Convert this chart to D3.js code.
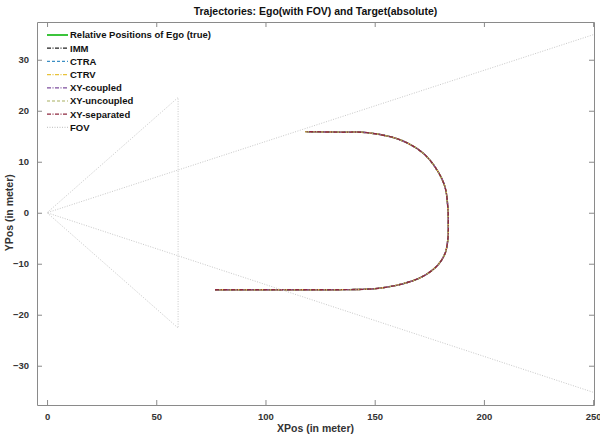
<!DOCTYPE html>
<html>
<head>
<meta charset="UTF-8">
<script src="https://cdn.jsdelivr.net/npm/d3@7"></script>
<style>
  body { margin: 0; background: #fff; }
  text { font-family: "Liberation Sans", Arial, sans-serif; font-weight: bold; }
</style>
</head>
<body>
<script>
// tick labels
const xTicks = [0, 50, 100, 150, 200, 250];
const yTicks = [-30, -20, -10, 0, 10, 20, 30];

// ego relative position (true) - stays at origin
const egoX = [0, 0];
const egoY = [0, 0];

// target track, shared by all estimators since they overlap
const trackX = [76.9, 90, 110, 130, 146, 152, 158, 164, 170, 175, 179.2, 182.2, 183.5, 183.7, 183.5, 182.2, 178.5, 172.1, 161.6, 146.5, 134.1, 118.1];
const trackY = [-15.1, -15.1, -15.1, -15.1, -15.0, -14.8, -14.4, -13.8, -12.9, -11.7, -10.1, -8.0, -5.2, -2.0, 0.9, 5.0, 8.4, 11.7, 14.3, 15.7, 15.8, 15.9];

// field of view outline
const fovX = [250, 0, 60, 60, 0, 250];
const fovY = [34.9, 0, 22.6, -22.6, 0, -35.2];

const seriesNames = ["Relative Positions of Ego (true)", "IMM", "CTRA", "CTRV", "XY-coupled", "XY-uncoupled", "XY-separated", "FOV"];
const seriesColors = ["#3cc43c", "#202020", "#3d8fc4", "#e8c23a", "#7e4f9e", "#a8b060", "#8e2a40", "#c8c8c8"];
const seriesDash = [null, "4,1.5,1,1.5", "3,2", "4,1.5,1,1.5", "4,1.5,1,1.5", "3,2", "4,1.5,1,1.5", "1,1.5"];

const W = 600, H = 439;
const margin = {top: 22, right: 6, bottom: 34, left: 37};
const width = W - margin.left - margin.right,
      height = H - margin.top - margin.bottom;

const svg = d3.select("body").append("svg")
  .attr("width", W).attr("height", H);

const x = d3.scaleLinear().domain([-4.6, 250.4]).range([0, width]);
const y = d3.scaleLinear().domain([-37.7, 37.4]).range([height, 0]);

const g = svg.append("g").attr("transform", `translate(${margin.left},${margin.top})`);

g.append("clipPath").attr("id", "clip")
  .append("rect").attr("width", width).attr("height", height);

const plot = g.append("g").attr("clip-path", "url(#clip)");

const line = d3.line().x(d => x(d[0])).y(d => y(d[1]));
const smooth = d3.line().x(d => x(d[0])).y(d => y(d[1])).curve(d3.curveCatmullRom);
const zip = (a, b) => a.map((v, i) => [v, b[i]]);

// ego
plot.append("path")
  .attr("d", line(zip(egoX, egoY)))
  .attr("fill", "none").attr("stroke", seriesColors[0]).attr("stroke-width", 2);

// estimators (offset dashes so the overlapping lines fill each other's gaps)
for (let k = 1; k <= 6; k++) {
  plot.append("path")
    .attr("d", smooth(zip(trackX, trackY)))
    .attr("fill", "none")
    .attr("stroke", seriesColors[k])
    .attr("stroke-width", 1.4)
    .attr("stroke-dasharray", seriesDash[k])
    .attr("stroke-dashoffset", k * 1.3);
}

// FOV
plot.append("path")
  .attr("d", line(zip(fovX, fovY)))
  .attr("fill", "none")
  .attr("stroke", seriesColors[7])
  .attr("stroke-width", 1)
  .attr("stroke-dasharray", seriesDash[7]);

// axes, MATLAB style box with inward ticks
const axisColor = "#8a8a8a";
const tickLen = 5;

g.append("g").attr("transform", `translate(0,${height})`)
  .call(d3.axisBottom(x).tickValues(xTicks).tickSizeInner(-tickLen).tickSizeOuter(0).tickPadding(8));
g.append("g")
  .call(d3.axisTop(x).tickValues(xTicks).tickSizeInner(-tickLen).tickSizeOuter(0).tickFormat(""));
g.append("g")
  .call(d3.axisLeft(y).tickValues(yTicks).tickSizeInner(-tickLen).tickSizeOuter(0).tickPadding(8));
g.append("g").attr("transform", `translate(${width},0)`)
  .call(d3.axisRight(y).tickValues(yTicks).tickSizeInner(-tickLen).tickSizeOuter(0).tickFormat(""));

g.selectAll(".domain, .tick line").attr("stroke", axisColor);
g.selectAll(".tick text").attr("fill", "#333").attr("font-size", 9.5)
  .attr("font-family", "Liberation Sans, Arial, sans-serif").attr("font-weight", "bold");

// titles
svg.append("text")
  .attr("x", margin.left + width / 2).attr("y", 15)
  .attr("text-anchor", "middle").attr("font-size", 10.5).attr("fill", "#111")
  .text("Trajectories: Ego(with FOV) and Target(absolute)");

svg.append("text")
  .attr("x", margin.left + width / 2).attr("y", 432)
  .attr("text-anchor", "middle").attr("font-size", 10.5).attr("fill", "#333")
  .text("XPos (in meter)");

svg.append("text")
  .attr("transform", `translate(13,${margin.top + y(0)}) rotate(-90)`)
  .attr("text-anchor", "middle").attr("font-size", 10.5).attr("fill", "#333")
  .text("YPos (in meter)");

// legend
const legend = svg.append("g")
  .selectAll("g")
  .data(seriesNames)
  .enter().append("g")
  .attr("transform", (d, i) => `translate(47,${35 + i * 13.2})`);

legend.append("line")
  .attr("x1", 0).attr("x2", 21)
  .attr("stroke", (d, i) => seriesColors[i])
  .attr("stroke-width", (d, i) => i === 0 ? 2 : 1.2)
  .attr("stroke-dasharray", (d, i) => seriesDash[i]);

legend.append("text")
  .attr("x", 23).attr("dy", "0.35em")
  .attr("font-size", 9.5).attr("fill", "#111")
  .text(d => d);
</script>
</body>
</html>
